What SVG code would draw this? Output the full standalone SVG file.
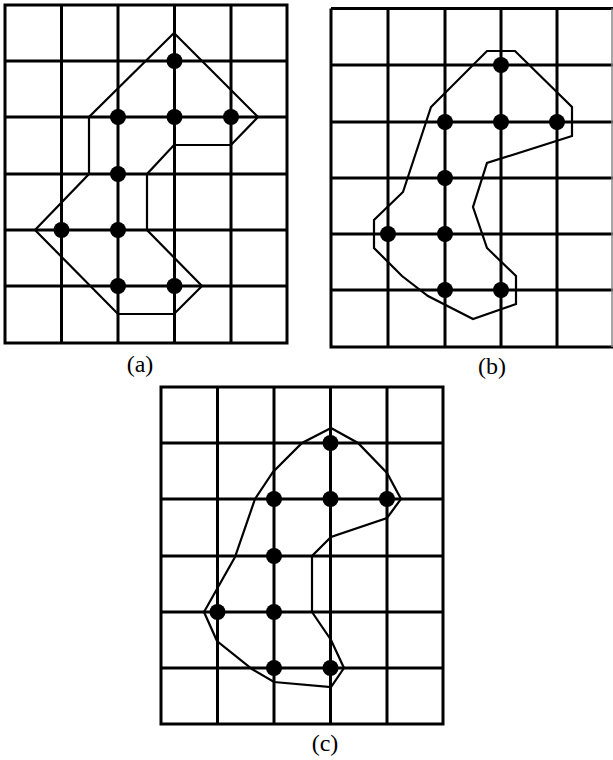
<svg xmlns="http://www.w3.org/2000/svg" width="613" height="760" viewBox="0 0 613 760">
<style>
.grid{fill:none;stroke:#000;stroke-width:3}
.outline{fill:none;stroke:#000;stroke-width:2.2;stroke-linejoin:miter}
.dot{fill:#000}
.lbl{font-family:"Liberation Serif","Times New Roman",serif;font-size:24px;fill:#000;text-anchor:middle}
</style>
<rect width="613" height="760" fill="#fff"/>
<g id="panel-a">
  <g class="grid">
    <rect x="5" y="5" width="282" height="338"/>
    <path d="M61.5 5V343M118 5V343M174.5 5V343M231 5V343M5 61H287M5 117H287M5 174H287M5 230H287M5 286H287"/>
  </g>
  <polygon class="outline" points="174,33 258,117 231,145 174,145 147,174 147,230 202,286 174,314 118,314 35,230 89,174 89,117"/>
  <g class="dot">
    <circle cx="174.5" cy="61" r="8"/><circle cx="118" cy="117" r="8"/><circle cx="174.5" cy="117" r="8"/><circle cx="231" cy="117" r="8"/>
    <circle cx="118" cy="174" r="8"/><circle cx="61.5" cy="230" r="8"/><circle cx="118" cy="230" r="8"/><circle cx="118" cy="286" r="8"/><circle cx="174.5" cy="286" r="8"/>
  </g>
  <text class="lbl" x="140" y="372">(a)</text>
</g>
<g id="panel-b">
  <g class="grid">
    <path d="M331 8.5H613M331 8.5V347H613"/>
    <path d="M388 8.5V347M445 8.5V347M501 8.5V347M557 8.5V347M331 65H613M331 122H613M331 178H613M331 234H613M331 290H613"/>
  </g>
  <path d="M612 8.5V347" fill="none" stroke="#888" stroke-width="1.5"/>
  <polygon class="outline" points="487,51 515,51 572,107 572,136 487,163 473,207 487,248 516,276 516,304 473,319 428,296 402,276 374,248 374,220 403,192 431,107"/>
  <g class="dot">
    <circle cx="501" cy="65" r="8"/><circle cx="445" cy="122" r="8"/><circle cx="501" cy="122" r="8"/><circle cx="557" cy="122" r="8"/>
    <circle cx="445" cy="178" r="8"/><circle cx="388" cy="234" r="8"/><circle cx="445" cy="234" r="8"/><circle cx="445" cy="290" r="8"/><circle cx="501" cy="290" r="8"/>
  </g>
  <text class="lbl" x="492" y="374">(b)</text>
</g>
<g id="panel-c">
  <g class="grid">
    <rect x="161" y="387" width="282" height="337"/>
    <path d="M217.5 387V724M274 387V724M330.5 387V724M387 387V724M161 443H443M161 499H443M161 556H443M161 612H443M161 668H443"/>
  </g>
  <polygon class="outline" points="331,428 358,443 387,473 401,499 387,518 331,537 312,556 312,612 331,640 344,668 331,687 274,682 252,669 217,641 204,612 235,557 255,499 273,472 302,443"/>
  <g class="dot">
    <circle cx="330.5" cy="443" r="8"/><circle cx="274" cy="499" r="8"/><circle cx="330.5" cy="499" r="8"/><circle cx="387" cy="499" r="8"/>
    <circle cx="274" cy="556" r="8"/><circle cx="217.5" cy="612" r="8"/><circle cx="274" cy="612" r="8"/><circle cx="274" cy="668" r="8"/><circle cx="330.5" cy="668" r="8"/>
  </g>
  <text class="lbl" x="325" y="751">(c)</text>
</g>
</svg>
